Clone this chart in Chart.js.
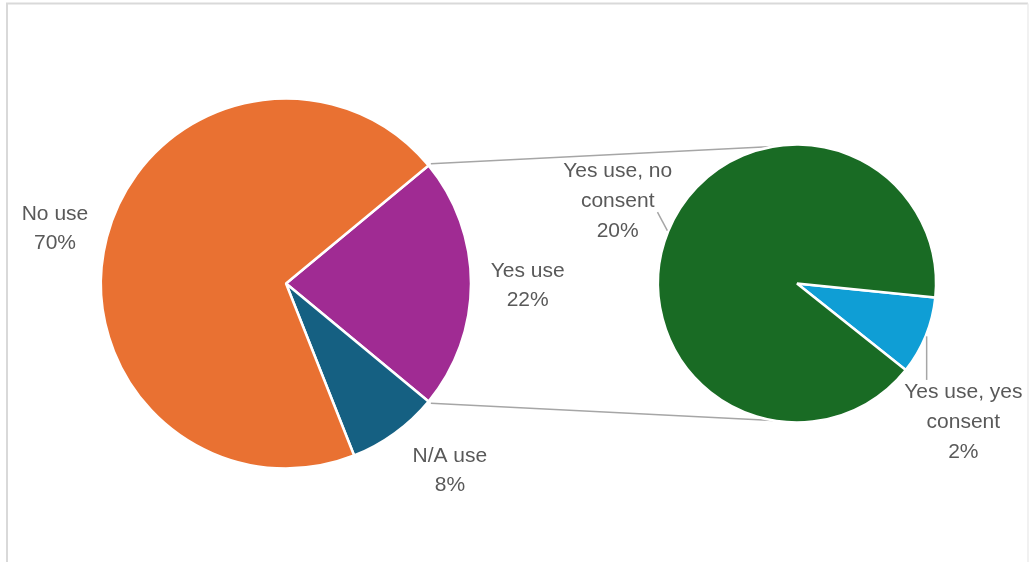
<!DOCTYPE html>
<html>
<head>
<meta charset="utf-8">
<title>Use and consent</title>
<script src="https://cdn.jsdelivr.net/npm/chart.js@4.4.1/dist/chart.umd.min.js"></script>
<style>
  html, body { margin: 0; padding: 0; background: #ffffff; }
  #wrap { position: relative; width: 1029px; height: 562px; }
  #wrap canvas { position: absolute; left: 0; top: 0; }
</style>
</head>
<body>
<div id="wrap">
  <canvas id="mainPie" width="1029" height="562"></canvas>
  <canvas id="splitPie" width="1029" height="562"></canvas>
</div>
<script>
// Breakdown of the "Yes use" group (second pie)
const splitCategories = [['Yes use, yes', 'consent'], ['Yes use, no', 'consent']];
const splitValues = [2, 20];
const splitColors = ['#0F9ED5', '#196B24'];

// First pie: the combined "Yes use" slice plus the remaining groups
const mainCategories = ['Yes use', 'N/A use', 'No use'];
const otherValues = [8, 70];
const mainValues = [splitValues.reduce((a, b) => a + b, 0), ...otherValues];
const mainColors = ['#A02B93', '#156082', '#E97132'];

const grandTotal = mainValues.reduce((a, b) => a + b, 0);

const LABEL_FONT = '21px "Liberation Sans", Arial, sans-serif';
const LABEL_COLOR = '#595959';
const LINE_COLOR = '#A6A6A6';
const deg = Math.PI / 180;

// Outer frame of the chart
const frame = {
  id: 'frame',
  beforeDraw(chart) {
    const ctx = chart.ctx;
    ctx.save();
    ctx.strokeStyle = '#D9D9D9';
    ctx.lineWidth = 2;
    ctx.beginPath();
    ctx.moveTo(7, 600); ctx.lineTo(7, 3.5); ctx.lineTo(1028, 3.5);
    ctx.stroke();
    ctx.strokeStyle = '#EDEDED';
    ctx.lineWidth = 1.5;
    ctx.beginPath();
    ctx.moveTo(1028, 3.5); ctx.lineTo(1028, 600);
    ctx.stroke();
    ctx.restore();
  }
};

// Category name + percentage next to each slice, with optional leader lines
const sliceLabels = {
  id: 'sliceLabels',
  afterDatasetsDraw(chart, args, opts) {
    const ctx = chart.ctx;
    const ds = chart.data.datasets[0];
    const meta = chart.getDatasetMeta(0);
    const lh = opts.lineHeight;
    ctx.save();
    ctx.font = LABEL_FONT;
    ctx.textAlign = 'center';
    ctx.textBaseline = 'middle';
    meta.data.forEach((arc, i) => {
      const { x, y, startAngle, endAngle, outerRadius } = arc;
      const mid = (startAngle + endAngle) / 2;
      const [shift, extra] = opts.placement[i];
      const a = mid + shift * deg;
      const d = outerRadius + extra;
      const cx = x + Math.cos(a) * d;
      const cy = y + Math.sin(a) * d;
      const name = chart.data.labels[i];
      const lines = [].concat(name, Math.round(ds.data[i] / grandTotal * 100) + '%');
      const top = cy - (lines.length - 1) * lh / 2;

      if (opts.leaders) {
        // leader from the slice edge to the nearest text line box
        const sx = x + Math.cos(mid) * (outerRadius + 1);
        const sy = y + Math.sin(mid) * (outerRadius + 1);
        let best = null;
        lines.forEach((t, k) => {
          const w = ctx.measureText(t).width;
          const ly = top + k * lh;
          const x0 = cx - w / 2 - 3, x1 = cx + w / 2 + 3;
          const y0 = ly - 12, y1 = ly + 11;
          const px = Math.min(Math.max(sx, x0), x1);
          const py = Math.min(Math.max(sy, y0), y1);
          const dist = Math.hypot(px - sx, py - sy);
          if (!best || dist < best.dist) best = { px, py, dist };
        });
        if (best && best.dist > 8) {
          ctx.strokeStyle = LINE_COLOR;
          ctx.lineWidth = 1.5;
          ctx.beginPath();
          ctx.moveTo(sx, sy);
          ctx.lineTo(best.px, best.py);
          ctx.stroke();
        }
      }

      ctx.fillStyle = LABEL_COLOR;
      lines.forEach((t, k) => ctx.fillText(t, cx, top + k * lh));
    });
    ctx.restore();
  }
};

// Lines joining the combined slice of the first pie to the second pie
const connectors = {
  id: 'connectors',
  beforeDatasetsDraw(chart, args, opts) {
    const src = Chart.getChart('mainPie');
    if (!src) return;
    const arc = src.getDatasetMeta(0).data[0];
    const dst = chart.getDatasetMeta(0).data[0];
    const ctx = chart.ctx;
    const r0 = arc.outerRadius + opts.gap;
    const pairs = [[arc.startAngle, -opts.targetAngle * deg], [arc.endAngle, opts.targetAngle * deg]];
    ctx.save();
    ctx.strokeStyle = LINE_COLOR;
    ctx.lineWidth = 1.5;
    pairs.forEach(([a0, a1]) => {
      ctx.beginPath();
      ctx.moveTo(arc.x + Math.cos(a0) * r0, arc.y + Math.sin(a0) * r0);
      ctx.lineTo(dst.x + Math.cos(a1) * dst.outerRadius, dst.y + Math.sin(a1) * dst.outerRadius);
      ctx.stroke();
    });
    ctx.restore();
  }
};

const commonOptions = {
  responsive: false,
  animation: false,
  events: [],
  plugins: { legend: { display: false }, title: { display: false }, tooltip: { enabled: false } }
};

new Chart(document.getElementById('mainPie'), {
  type: 'pie',
  data: {
    labels: mainCategories,
    datasets: [{ data: mainValues, backgroundColor: mainColors, borderColor: '#ffffff', borderWidth: 2.5 }]
  },
  options: {
    ...commonOptions,
    // the combined slice is centred on the right-hand side, facing the second pie
    rotation: 90 - mainValues[0] / grandTotal * 180,
    radius: 185,
    layout: { padding: { left: 0, right: 457, top: 5, bottom: 0 } },
    plugins: {
      ...commonOptions.plugins,
      sliceLabels: { lineHeight: 29.5, leaders: false, placement: [[0.5, 56.7], [-5.2, 63.8], [-1, 52.5]] }
    }
  },
  plugins: [frame, sliceLabels]
});

new Chart(document.getElementById('splitPie'), {
  type: 'pie',
  data: {
    labels: splitCategories,
    datasets: [{ data: splitValues, backgroundColor: splitColors, borderColor: '#ffffff', borderWidth: 2.5 }]
  },
  options: {
    ...commonOptions,
    rotation: 95.8,
    radius: 139,
    layout: { padding: { left: 565, right: 0, top: 5, bottom: 0 } },
    plugins: {
      ...commonOptions.plugins,
      connectors: { gap: 3, targetAngle: 100 },
      sliceLabels: { lineHeight: 30, leaders: true, placement: [[17.6, 77.4], [2.5, 58.3]] }
    }
  },
  plugins: [connectors, sliceLabels]
});
</script>
</body>
</html>
